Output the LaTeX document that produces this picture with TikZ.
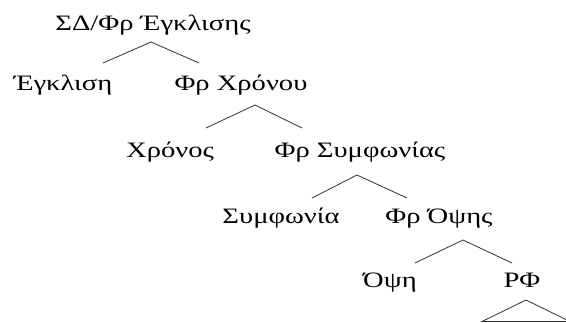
\documentclass[tikz,border=0pt]{standalone}
\usepackage{fontspec}
\setmainfont[FakeStretch=1.3]{Liberation Serif}
\begin{document}
\begin{tikzpicture}[x=1pt,y=-1pt,
  lbl/.style={anchor=base,inner sep=0pt,font=\fontsize{22}{26}\selectfont},
  branch/.style={draw=black!80,line width=0.8pt}]
\useasboundingbox[fill=white] (0,0) rectangle (566,322);
% tree labels
\node[lbl] (s)   at (153,30)  {ΣΔ/Φρ Έγκλισης};
\node[lbl] (e)   at (63,90)   {Έγκλιση};
\node[lbl] (fx)  at (241,90)  {Φρ Χρόνου};
\node[lbl] (x)   at (170,157) {Χρόνος};
\node[lbl] (fs)  at (360,157) {Φρ Συμφωνίας};
\node[lbl] (sy)  at (281,223) {Συμφωνία};
\node[lbl] (fo)  at (439,223) {Φρ Όψης};
\node[lbl] (o)   at (390,287) {Όψη};
\node[lbl] (rf)  at (522,287) {ΡΦ};
% branch points
\coordinate (a0) at (151,42);  \coordinate (l0) at (103,63);  \coordinate (r0) at (199,63);
\coordinate (a1) at (255,105); \coordinate (l1) at (206,128); \coordinate (r1) at (302,128);
\coordinate (a2) at (357,175); \coordinate (l2) at (312,198); \coordinate (r2) at (407,198);
\coordinate (a3) at (463,240); \coordinate (l3) at (415,263); \coordinate (r3) at (512,263);
\coordinate (a4) at (526,300); \coordinate (l4) at (482,321.5); \coordinate (r4) at (570,321.5);
\draw[branch] (l0) -- (a0) -- (r0);
\draw[branch] (l1) -- (a1) -- (r1);
\draw[branch] (l2) -- (a2) -- (r2);
\draw[branch] (l3) -- (a3) -- (r3);
\draw[branch] (l4) -- (a4) -- (r4) -- cycle;
\end{tikzpicture}
\end{document}
